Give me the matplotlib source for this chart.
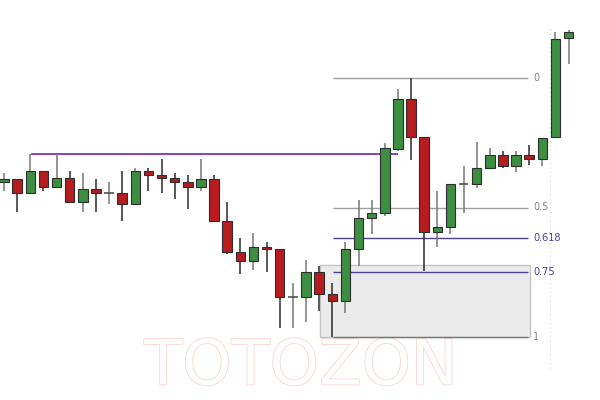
import matplotlib
matplotlib.use("Agg")
import matplotlib.pyplot as plt
import matplotlib.patheffects as pe
from matplotlib.patches import Rectangle

# --- Data (price units) ---

opens = [218, 221, 207, 229, 213, 222, 198, 211, 207, 207, 196, 229, 225, 222, 218,
         213, 221, 179, 148, 139, 153, 151, 103, 103, 128, 106, 99, 151, 182, 187,
         251, 301, 263, 168, 173, 216, 216, 232, 245, 234, 245, 241, 263, 362]
highs = [227, 221, 246, 229, 246, 229, 227, 221, 218, 229, 232, 232, 241, 227, 225,
         241, 225, 198, 162, 167, 158, 151, 117, 140, 134, 117, 158, 200, 200, 257,
         311, 322, 263, 209, 216, 234, 258, 252, 249, 249, 255, 262, 368, 370]
lows = [209, 188, 207, 209, 213, 198, 188, 188, 196, 179, 196, 209, 207, 201, 191,
        209, 179, 146, 126, 130, 128, 72, 72, 78, 89, 63, 87, 134, 166, 184,
        249, 240, 129, 153, 166, 187, 212, 232, 232, 228, 235, 234, 263, 336]
closes = [221, 207, 229, 213, 222, 198, 211, 207, 207, 196, 229, 225, 222, 218, 213,
          221, 179, 148, 139, 153, 151, 103, 103, 128, 106, 99, 151, 182, 187, 252,
          301, 263, 168, 173, 216, 216, 232, 245, 234, 245, 241, 262, 361, 368]

# swing used for the fibonacci retracement
fib_high = 322
fib_low = 63
fib_levels = [0, 0.5, 0.618, 0.75, 1]
fib_labels = ["0", "0.5", "0.618", "0.75", "1"]

# resistance line and demand zone
resistance = 246
zone_top = 135

GREEN = "#3c8f40"
RED = "#b71c1f"

fig = plt.figure(figsize=(6, 4), dpi=100)
ax = fig.add_axes([0, 0, 1, 1])
ax.set_xlim(-0.305, 45.39)
ax.set_ylim(0, 400)
ax.axis("off")

# demand zone
ax.add_patch(Rectangle((24.07, fib_low), 40.06 - 24.07, zone_top - fib_low,
                       facecolor="#ebebeb", edgecolor="#c4c4c4", lw=1, zorder=1))

# fib levels
for lvl, lab in zip(fib_levels, fib_labels):
    price = fib_high - lvl * (fib_high - fib_low)
    if lvl in (0.618, 0.75):
        col, tcol = "#4b3f96", "#4b3f96"
    elif lvl == 1:
        col, tcol = "#777777", "#888888"
    else:
        col, tcol = "#a0a0a0", "#888888"
    ax.hlines(price, 25.05, 39.9, color=col, lw=1, zorder=2)
    ax.text(40.3, price, lab, color=tcol, fontsize=7, va="center", ha="left", zorder=5)

# resistance line
ax.hlines(resistance, 2.06, 30.0, color="#8a3fc0", lw=1.4, zorder=2)

# dotted vertical line
ax.vlines(41.55, 32, 372, color="#d6d6d6", lw=0.8, linestyles=(0, (1, 3)), zorder=0)

# candles
for i, (o, h, l, c) in enumerate(zip(opens, highs, lows, closes)):
    if c > o:
        body, wick = GREEN, "#777777"
    elif c < o:
        body, wick = RED, "#2b2b2b"
    else:
        body, wick = "#555555", "#777777"
    ax.vlines(i, l, h, color=wick, lw=1.1, zorder=3)
    if c == o:
        ax.hlines(o, i - 0.36, i + 0.36, color="#444444", lw=1.1, zorder=4)
    else:
        ax.add_patch(Rectangle((i - 0.36, min(o, c)), 0.72, abs(c - o),
                               facecolor=body, edgecolor="#2e2e2e", lw=0.8, zorder=4))

# watermark
ax.text(22.6, 32.5, "TOTOZON", fontsize=45, color="white", ha="center", va="center",
        zorder=0, path_effects=[pe.withStroke(linewidth=1.2, foreground="#f8d6cf")])

fig.savefig("out.png", dpi=100)
